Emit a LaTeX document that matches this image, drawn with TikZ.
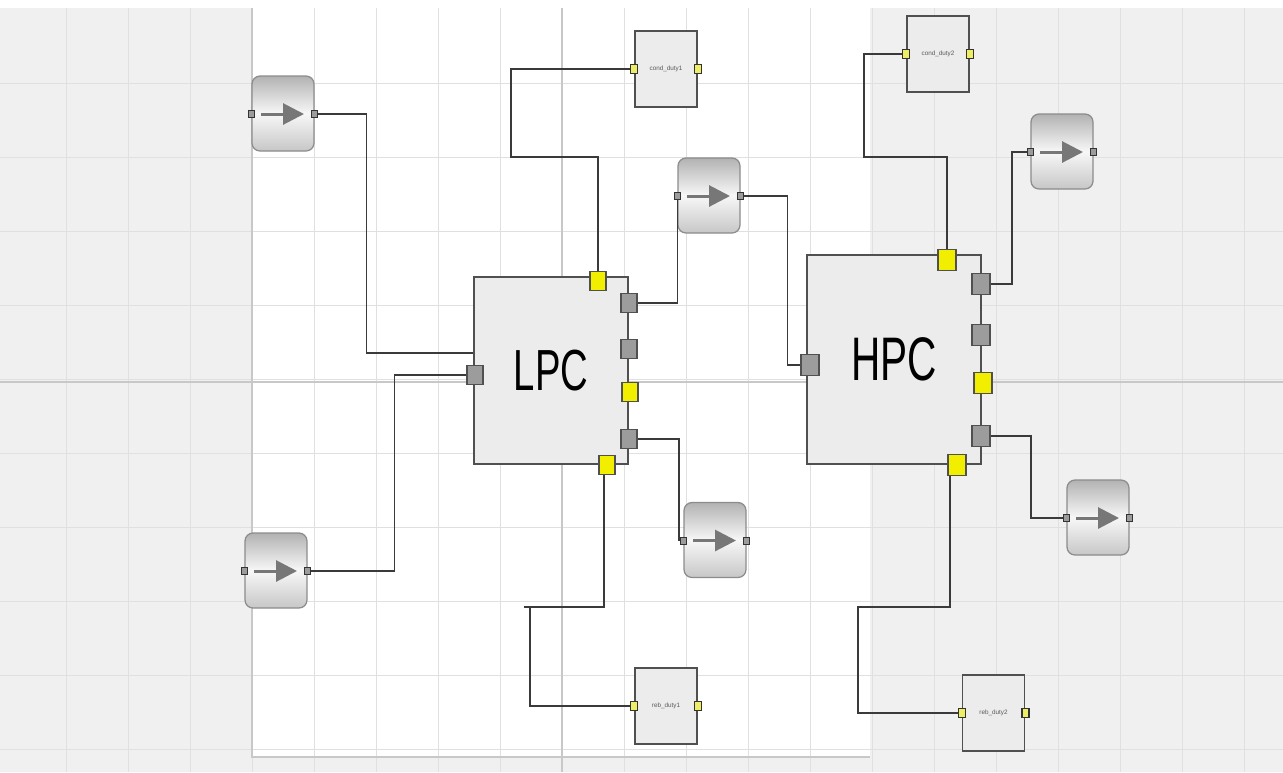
\documentclass[tikz,border=0pt]{standalone}
\usepackage{fontspec}
\setmainfont{Liberation Sans}
\usepackage{graphicx}
\usepackage{tikz}
\usetikzlibrary{arrows.meta,calc}
\definecolor{gridbg}{HTML}{F0F0F0}
\definecolor{gridln}{HTML}{E0E0E0}
\definecolor{gridmaj}{HTML}{C8C8C8}
\definecolor{boxfill}{HTML}{ECECEC}
\definecolor{boxline}{HTML}{505050}
\definecolor{portgray}{HTML}{9C9C9C}
\definecolor{portyel}{HTML}{F2EE00}
\definecolor{dutyyel}{HTML}{EEEE66}
\definecolor{wirecol}{HTML}{3A3A3A}
\definecolor{iconcol}{HTML}{777777}
\tikzset{
  gridline/.style={draw=gridln, line width=0.02cm},
  gridmajor/.style={draw=gridmaj, line width=0.025cm},
  bigbox/.style={draw=boxline, line width=0.04cm, fill=boxfill, inner sep=0pt, align=center},
  dutybox/.style={draw=boxline, line width=0.035cm, fill=boxfill, inner sep=0pt,
    minimum width=1.24cm, minimum height=1.52cm, text=black!65, font=\fontsize{3.6}{4}\selectfont},
  srcbox/.style={draw=black!45, line width=0.025cm, rounded corners=0.16cm, inner sep=0pt,
    minimum width=1.24cm, minimum height=1.5cm,
    top color=black!30, bottom color=black!22, middle color=black!3},
  srcport/.style={draw=black!80, line width=0.02cm, fill=portgray, inner sep=0pt,
    minimum width=0.13cm, minimum height=0.14cm},
  dutyport/.style={draw=black!80, line width=0.025cm, fill=dutyyel, inner sep=0pt,
    minimum width=0.14cm, minimum height=0.18cm},
  lport/.style={draw=boxline, line width=0.025cm, inner sep=0pt,
    minimum width=0.32cm, minimum height=0.38cm},
  hport/.style={draw=boxline, line width=0.025cm, inner sep=0pt,
    minimum width=0.36cm, minimum height=0.42cm},
  wire/.style={draw=wirecol, line width=0.035cm},
  icon/.style={draw=iconcol, line width=0.06cm, -{Triangle[length=0.42cm,width=0.42cm]}}
}
\begin{document}
\begin{tikzpicture}[x=0.02cm, y=-0.02cm]
  \useasboundingbox (0,0) rectangle (1283,772);
  % canvas and grid
  \fill[gridbg] (0,0) rectangle (1283,772);
  \fill[white] (0,0) rectangle (1283,8);
  \fill[white] (252,8) rectangle (870,757);
  \foreach \x in {66.7,128.7,...,1250} \draw[gridline] (\x,8) -- (\x,772);
  \foreach \y in {83,157,...,760} \draw[gridline] (0,\y) -- (1283,\y);
  \draw[gridmajor] (0,382) -- (1283,382);
  \draw[gridmajor] (562,8) -- (562,772);
  \draw[gridmajor] (252,8) -- (252,757) -- (870,757);

  % source / sink blocks
  \foreach \n/\x/\y in {a1/283/113.5, a2/276/570.5, a3/709/195.5,
                        a4/715/540, a5/1062/151.5, a6/1098/517.5} {
    \node[srcbox] (\n) at (\x,\y) {};
    \draw[icon] ($(\n.center)+(-22,0.5)$) -- ($(\n.center)+(21,0.5)$);
    \node[srcport] (\n-in) at ($(\n.west)+(0,0.5)$) {};
    \node[srcport] (\n-out) at ($(\n.east)+(0,0.5)$) {};
  }

  % duty blocks
  \foreach \n/\x/\y/\txt in {cd1/666/69/cond\_duty1, cd2/938/54/cond\_duty2,
                             rd1/666/706/reb\_duty1, rd2/993.5/713/reb\_duty2} {
    \node[dutybox] (\n) at (\x,\y) {\txt};
    \node[dutyport] (\n-in) at (\n.west) {};
    \node[dutyport] (\n-out) at (\n.east) {};
  }

  % columns
  \node[bigbox, minimum width=3.08cm, minimum height=3.74cm] (lpc) at (551,370.5)
    {\fontsize{33}{33}\selectfont\scalebox{0.66}[1]{LPC}};
  \node[bigbox, minimum width=3.48cm, minimum height=4.18cm] (hpc) at (894,359.5)
    {\fontsize{35}{35}\selectfont\scalebox{0.66}[1]{HPC}};

  \foreach \n/\x/\y/\c in {lpcT/598/281/portyel, lpcR1/629/303/portgray,
                           lpcR2/629/349/portgray, lpcR3/630/392/portyel,
                           lpcR4/629/439/portgray, lpcB/607/465/portyel,
                           lpcL/475/375/portgray}
    \node[lport, fill=\c] (\n) at (\x,\y) {};
  \foreach \n/\x/\y/\c in {hpcT/947/260/portyel, hpcR1/981/284/portgray,
                           hpcR2/981/335/portgray, hpcR3/983/383/portyel,
                           hpcR4/981/436/portgray, hpcB/957/465/portyel,
                           hpcL/810/365/portgray}
    \node[hport, fill=\c] (\n) at (\x,\y) {};

  % connections
  \draw[wire] (a1-out.east) -- ++(48,0) |- ([yshift=0.35cm]lpc.west);
  \draw[wire] (a2-out.east) -- ++(83,0) |- (lpcL.west);
  \draw[wire] (lpcT.north) |- (511,157) |- (cd1-in.west);
  \draw[wire] (lpcR1.east) -| (a3-in.south);
  \draw[wire] (a3-out.east) -- ++(43,0) |- (hpcL.west);
  \draw[wire] (lpcR4.east) -- ++(41,0) |- (a4-in.west);
  \draw[wire] ([xshift=-0.06cm]lpcB.south) |- (524,607) -- ++(6,0) |- (rd1-in.west);
  \draw[wire] (hpcT.north) |- (864,157) |- (cd2-in.west);
  \draw[wire] (hpcR1.east) -- ++(21,0) |- (a5-in.west);
  \draw[wire] (hpcR4.east) -- ++(40,0) |- (a6-in.west);
  \draw[wire] ([xshift=-0.14cm]hpcB.south) |- (858,607) |- (rd2-in.west);
\end{tikzpicture}
\end{document}
